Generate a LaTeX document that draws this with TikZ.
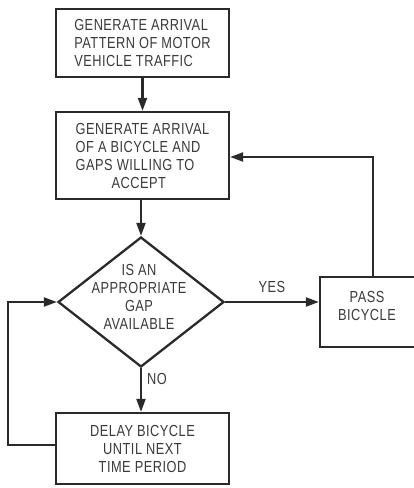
\documentclass[tikz,border=0pt]{standalone}
\usepackage{fontspec}
\setmainfont{Liberation Sans}[FakeStretch=0.8,LetterSpace=3]
\usetikzlibrary{arrows.meta,shapes.geometric}
\definecolor{ink}{HTML}{2A2A2A}
\definecolor{tink}{HTML}{3A3A3A}
\begin{document}
\begin{tikzpicture}[x=1pt,y=-1pt,
  every node/.style={text=tink},
  txt/.style={font=\fontsize{16}{18}\selectfont},
  box/.style={draw=ink,line width=2.3pt,rectangle,inner sep=0pt,txt},
  dia/.style={draw=ink,line width=2.3pt,diamond,inner sep=0pt,minimum width=166pt,minimum height=130pt},
  conn/.style={draw=ink,line width=2.2pt,-{Triangle[length=13pt,width=9pt]}},
  lbl/.style={txt,inner sep=0pt}]
\useasboundingbox (0,0) rectangle (414,488);
\begin{scope}
\clip (0,0) rectangle (414,488);
\node[box,minimum width=173pt,minimum height=68pt,align=left] (b1) at (142.5,43) {GENERATE ARRIVAL\\PATTERN OF MOTOR\\VEHICLE TRAFFIC};
\node[box,minimum width=173pt,minimum height=87pt,align=left] (b2) at (142.5,155.5) {GENERATE ARRIVAL\\OF A BICYCLE AND\\GAPS WILLING TO\\\hspace*{36pt}ACCEPT};
\node[dia] (d) at (141,302) {};
\node[lbl,align=center] (dt) at (139,297) {IS AN\\APPROPRIATE\\GAP\\AVAILABLE};
\node[box,minimum width=100pt,minimum height=70pt] (p) at (370,312) {};
\node[lbl,align=center] (pt) at (367,306) {PASS\\BICYCLE};
\node[box,minimum width=173pt,minimum height=71pt,align=center] (dl) at (142.5,448.5) {DELAY BICYCLE\\UNTIL NEXT\\TIME PERIOD};
\end{scope}
\draw[conn] (b1.south) -- (b2.north);
\draw[conn] (b2.south -| d.north) -- (d.north);
\draw[conn] (d.east) -- node[lbl,above=8pt,pos=0.5] (yes) {YES} (d.east -| p.west);
\draw[conn] (d.south) -- node[lbl,right=5pt,pos=0.25] (no) {NO} (d.south |- dl.north);
\coordinate (pc) at (373,0);
\draw[conn] (p.north -| pc) |- (b2.east |- 0,157);
\draw[conn] (dl.west |- 0,445) -- ++(-47,0) |- (d.west);
\end{tikzpicture}
\end{document}
